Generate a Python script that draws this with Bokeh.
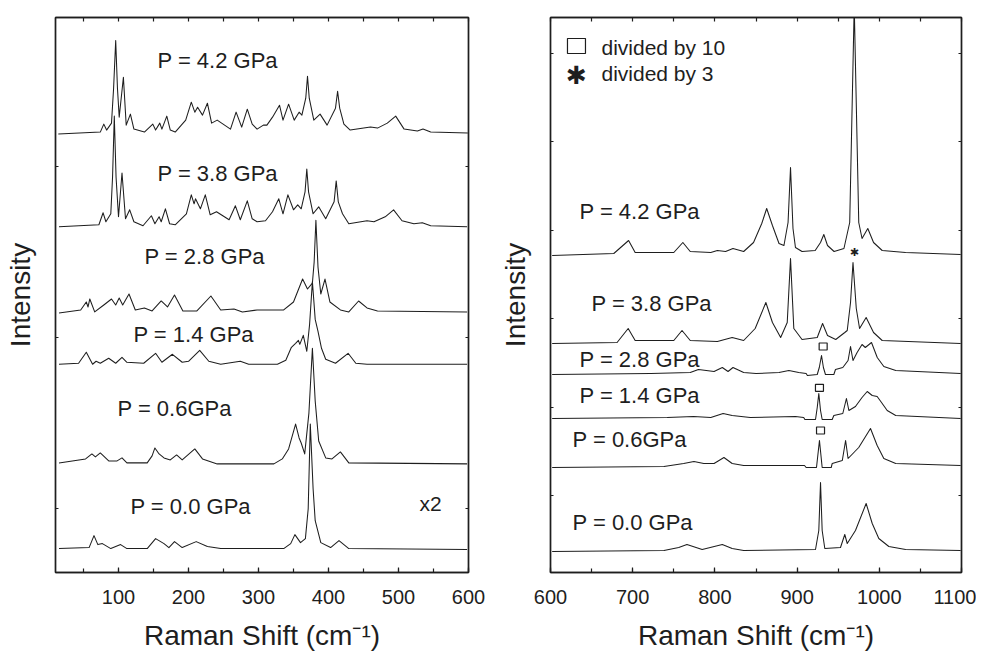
import numpy as np
from bokeh.plotting import figure
from bokeh.layouts import row
from bokeh.models import Range1d, LinearAxis, SingleIntervalTicker, FixedTicker
from bokeh.core.properties import value
from bokeh.embed import file_html
from bokeh.resources import INLINE

FONT = "Liberation Sans"
INK = "#1e1e1e"

pressure_labels = ["P = 4.2 GPa", "P = 3.8 GPa", "P = 2.8 GPa",
                   "P = 1.4 GPa", "P = 0.6GPa", "P = 0.0 GPa"]

# ---------------- left panel (low wavenumber), heights above each baseline ----------
L42_x = [14, 74, 79, 83, 90, 93, 96, 98.5, 101, 107, 111, 117, 122, 137, 149, 153, 159, 162, 169, 174,
         181, 196, 204, 209, 213, 220, 227, 233, 241, 260, 268, 276, 284, 291, 298, 307, 312, 320, 330, 335,
         343, 351, 358, 362, 367.5, 370, 372.5, 379, 388, 398, 410, 413, 416, 422, 431, 460, 470, 484, 496, 508,
         527, 535, 546, 599]
L42_h = [-1, 1, 9, 3, 10, 45, 93, 45, 16, 56, 8, 19, 4, 1, 9, 3, 10, 4, 17, 3,
         1, 13, 31, 21, 26, 18, 30, 10, 13, 4, 21, 6, 24, 9, 4, 8, 8, 16, 28, 13,
         29, 13, 21, 18, 35, 57, 35, 13, 19, 8, 25, 42, 25, 9, 3, 6, 5, 10, 17, 4,
         2, 4, 1, 0]

L38_x = [15, 72, 78, 82, 89, 91.5, 94, 96.5, 100, 105, 110, 116, 122, 135, 147, 152, 158, 161, 167, 173,
         181, 197, 204, 208, 210, 217, 224, 231, 240, 258, 267, 274, 284, 291, 298, 310, 320, 329, 335, 342,
         350, 356, 361, 366.5, 369, 371.5, 378, 386, 396, 408, 411, 414, 420, 429, 455, 465, 481, 493, 505, 522,
         534, 546, 598]
L38_h = [0, 2, 14, 5, 13, 50, 111, 50, 10, 54, 8, 17, 5, 1, 11, 3, 10, 5, 18, 3,
         2, 13, 32, 23, 28, 18, 32, 12, 15, 7, 21, 7, 26, 8, 5, 6, 15, 28, 13, 32,
         17, 22, 18, 35, 58, 35, 13, 20, 8, 25, 46, 25, 13, 3, 6, 5, 10, 17, 6, 3,
         4, 1, 0]

L28_x = [15, 46, 54, 56.5, 59, 66, 79, 90, 96, 101, 106, 115, 124, 137, 148, 161, 170, 180, 192, 212,
         232, 246, 265, 277, 298, 336, 350, 363, 370, 377, 379.5, 382, 385, 389, 395, 402, 417, 429, 443, 455,
         470, 598]
L28_h = [-1, 2, 10, 5, 13, 0, 7, 13, 7, 14, 7, 18, 2, 4, 1, 11, 5, 17, 1, 1,
         16, 2, 3, 0, 2, 2, 10, 33, 23, 29, 50, 92, 45, 18, 33, 10, 2, 0, 11, 4,
         1, 0]

L14_x = [15, 43, 54, 63, 68, 74, 86, 96, 105, 112, 136, 153, 162, 177, 191, 200, 216, 229, 246, 274,
         286, 327, 339, 347, 353, 357, 359, 364, 369, 373, 377, 381, 385, 390, 396, 410, 428, 439, 455, 598]
L14_h = [0, 1, 12, 0, 3, 1, 6, 1, 7, 2, 1, 11, 2, 10, 2, 3, 14, 3, 0, 3,
         0, 0, 4, 17, 21, 24, 20, 29, 13, 40, 83, 45, 33, 16, 5, 1, 11, 1, 0, 0]

L06_x = [15, 53, 62, 67, 74, 86, 98, 105, 112, 141, 148, 152, 158, 165, 174, 183, 191, 209, 220, 241,
         322, 334, 343, 353, 358, 361, 366, 372, 377, 381, 386, 396, 405, 417, 429, 598]
L06_h = [0, 4, 9, 6, 10, 2, 2, 5, 0, 0, 7, 15, 9, 5, 3, 8, 3, 14, 4, -1,
         -1, 4, 14, 39, 25, 20, 9, 50, 115, 62, 22, 5, 4, 11, 0, -1]

L00_x = [15, 58, 65, 70.5, 77, 89, 103, 112, 141, 153, 165, 172, 180, 191, 211, 227, 246, 336, 346, 352,
         360, 367, 371, 374, 378, 381, 389, 403, 415, 429, 598]
L00_h = [0, 1, 13, 4, 5, 0, 4, 0, 0, 10, 5, 1, 7, 1, 7, 2, 0, 0, 5, 14,
         6, 10, 40, 125, 60, 28, 6, 1, 8, 0, -1]

left_offsets = [377, 283, 197.5, 145, 46, -40]
left_label_x = [155.7, 155.7, 137.1, 121.4, 98.6, 117.1]
left_label_y = [450, 336, 253, 175, 101, 2]

# ---------------- right panel (high wavenumber) ----------------
R42_x = [602, 677, 695, 703, 750, 761, 770, 795, 803, 813, 822, 835, 847, 857, 863, 870, 878, 884, 889, 892,
         895, 898, 906, 922, 928.5, 932.5, 937, 945, 957, 964, 969.5, 975, 979, 986, 993, 1003.5, 1032, 1099]
R42_h = [0, 2, 15, 3, 3, 13, 4, 3, 5, 4, 7, 4, 13, 32, 47, 30, 12, 10, 33, 88,
         27, 8, 4, 5, 13, 21, 10, 4, 7, 33, 250, 33, 17, 27, 13, 5, 3, 1]

R38_x = [602, 681, 694.5, 703, 750, 760, 770, 803, 821, 835, 849, 862, 870, 880, 888, 892, 896, 906, 924.5, 931,
         937, 947, 958, 961, 965, 968, 972, 976, 984, 993, 1003.5, 1099]
R38_h = [0, 1, 15, 3, 3, 13, 3, 2, 6, 3, 15, 41, 21, 6, 21, 85, 15, 4, 6, 20,
         8, 4, 11, 13, 41, 81, 35, 15, 26, 11, 3, 0]

R28_x = [602, 722, 770, 780, 799, 809, 816, 822, 835, 850, 878, 890, 902, 911, 912.5, 924.5, 927, 929.7, 932, 934.5,
         944.7, 946.7, 955.6, 962, 965, 968, 973, 979, 983, 990.5, 997.5, 1005.5, 1020, 1099]
R28_h = [-1, 0, 1, 4, 2, 6, 2, 6, 1, 0, 1, 3, 1, 0, -2, -1, 6, 18, 6, -1,
         -1, 4, 6, 13, 27, 13, 21, 29, 26, 31, 16, 7, 3, 0]

R14_x = [602, 742, 774, 795, 810, 821, 843, 898, 908, 909.5, 922.4, 924.5, 926.4, 928.5, 930.5, 942.7, 944.7, 955.6, 960, 963,
         971, 979, 985.3, 991.4, 997.4, 1002.7, 1009.6, 1020, 1099]
R14_h = [0, 1, 2, 1, 5, 3, 1, 2, 1, -1, -1, 11, 25, 8, -1, -1, 3, 5, 20, 8,
         12, 21, 27, 23, 22, 16, 8, 3, 0]

R06_x = [602, 738, 762, 774.5, 786.5, 799, 811, 821, 835, 909, 911, 923.6, 927.2, 930.5, 941.5, 942.7, 955, 959, 962, 975,
         989.3, 997.4, 1005.5, 1020, 1099]
R06_h = [-1, 0, 3, 5, 3, 3, 9, 3, 1, 1, -1, -1, 26, -1, -1, 3, 6, 26, 8, 19,
         38, 21, 8, 3, 1]

R00_x = [602, 738, 756, 766, 784.5, 809, 821, 835, 922.4, 926.4, 928.5, 930.5, 933.7, 952.8, 958, 961, 971, 984, 991.4, 999.4,
         1011.6, 1032, 1099]
R00_h = [-1, 0, 3, 6, 1, 6, 2, 0, 1, 20, 68, 20, 2, 3, 16, 7, 20, 47, 27, 12,
         4, 1, 0]

right_offsets = [240, 152, 122, 77, 29, -55]
right_label_x = [635.3, 649.9, 635.3, 635.3, 626.8, 626.8]
right_label_y = [284, 192, 136, 100, 56, -27]

# markers: divided-by-10 squares and divided-by-3 star
square_x = [931.7, 927.2, 928.5]
square_y = [149, 107.7, 65]
star_x = [969.8]
star_y = [243.5]
legend_text = ["divided by 10", "divided by 3"]
legend_x = [662, 662]
legend_y = [448, 422]
legend_square = (631.6, 449.5)
legend_star = (631.6, 420)

left_ticks_y = [0, 171.5, 343]
right_ticks_y = [0, 88.4, 176.8, 265.2, 353.6, 442]
left_top_ticks = list(range(50, 601, 50))
right_top_ticks = list(range(600, 1101, 50))


def make_panel(xr, yr, yticks, top_ticks, width, bl, br, bt, bb):
    p = figure(width=width, height=653, x_range=Range1d(*xr), y_range=Range1d(*yr),
               output_backend="svg", toolbar_location=None,
               min_border_left=bl, min_border_right=br, min_border_top=bt, min_border_bottom=bb,
               x_axis_label="Raman Shift (cm\u207b\u00b9)", y_axis_label="Intensity")
    p.grid.visible = False
    p.outline_line_color = INK
    p.outline_line_width = 1.4
    p.background_fill_color = "white"
    p.border_fill_color = "white"
    bottom = p.xaxis[0]
    left = p.yaxis[0]
    bottom.ticker = SingleIntervalTicker(interval=100, num_minor_ticks=2)
    yt = FixedTicker(ticks=[], minor_ticks=yticks)
    left.ticker = yt
    top = LinearAxis(ticker=FixedTicker(ticks=[], minor_ticks=top_ticks))
    right = LinearAxis(ticker=yt)
    p.add_layout(top, "above")
    p.add_layout(right, "right")
    for ax in (bottom, left, top, right):
        ax.axis_line_color = INK
        ax.axis_line_width = 1.4
        ax.major_tick_line_color = INK
        ax.minor_tick_line_color = INK
        ax.major_tick_line_width = 1.2
        ax.minor_tick_line_width = 1.2
        ax.major_tick_out = 0
        ax.minor_tick_out = 0
        ax.major_tick_in = 5
        ax.minor_tick_in = 4
        ax.major_label_standoff = 0
        ax.axis_label_text_font = FONT
        ax.axis_label_text_font_size = "28px"
        ax.axis_label_text_font_style = "normal"
        ax.axis_label_text_color = INK
        ax.major_label_text_font = FONT
        ax.major_label_text_color = INK
        ax.major_label_text_font_size = "20px"
    for ax in (left, right):
        ax.minor_tick_in = 3
    bottom.major_label_standoff = 17
    bottom.axis_label_standoff = 13
    left.axis_label_standoff = 20
    return p


def draw(p, xs, hs, offsets, lab_x, lab_y):
    for x, h, off in zip(xs, hs, offsets):
        p.line(x, np.asarray(h, dtype=float) + off, line_color=INK, line_width=1.05, line_join="round")
    p.text(lab_x, lab_y, text=pressure_labels, text_font=value(FONT), text_font_size="22px",
           text_color=INK, text_baseline="middle", text_align="left")


pl = make_panel((10, 600), (-64, 493), left_ticks_y, left_top_ticks, 490, 55, 22, 15, 81)
draw(pl, [L42_x, L38_x, L28_x, L14_x, L06_x, L00_x],
     [L42_h, L38_h, L28_h, L14_h, L06_h, L00_h], left_offsets, left_label_x, left_label_y)
pl.text([530], [5], text=["x2"], text_font=value(FONT), text_font_size="21px",
        text_color=INK, text_baseline="middle", text_align="left")

pr = make_panel((600, 1100), (-77, 478), right_ticks_y, right_top_ticks, 486, 60, 15, 17, 81)
draw(pr, [R42_x, R38_x, R28_x, R14_x, R06_x, R00_x],
     [R42_h, R38_h, R28_h, R14_h, R06_h, R00_h], right_offsets, right_label_x, right_label_y)
pr.rect(square_x, square_y, width=8, height=7, width_units="screen", height_units="screen",
        fill_color=None, line_color=INK, line_width=1.2)
pr.text(star_x, star_y, text=["\u2731"], text_font=value("DejaVu Sans"), text_font_size="11px",
        text_color=INK, text_baseline="middle", text_align="center")
pr.rect([legend_square[0]], [legend_square[1]], width=18, height=15, width_units="screen",
        height_units="screen", fill_color=None, line_color=INK, line_width=1.2)
pr.text([legend_star[0]], [legend_star[1]], text=["\u2731"], text_font=value("DejaVu Sans"),
        text_font_size="25px", text_color=INK, text_baseline="middle", text_align="center")
pr.text(legend_x, legend_y, text=legend_text, text_font=value(FONT), text_font_size="21px",
        text_color=INK, text_baseline="middle", text_align="left")

layout = row(pl, pr)
open("out.html", "w").write(file_html(layout, INLINE))
